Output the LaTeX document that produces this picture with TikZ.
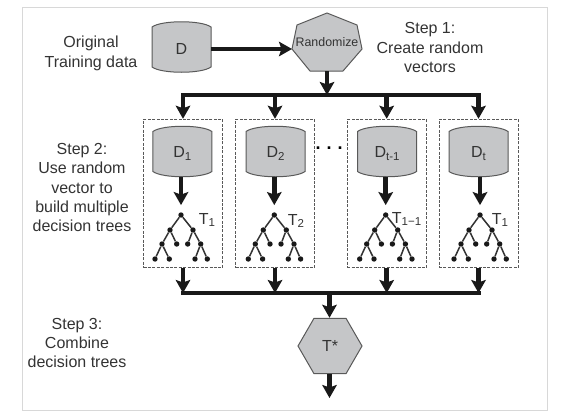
\documentclass[tikz,border=0pt]{standalone}
\usepackage{fontspec}
\setmainfont{Liberation Sans}
\usetikzlibrary{shapes,arrows,arrows.meta}
\definecolor{shapegray}{HTML}{C5C6C8}
\definecolor{inkgray}{HTML}{333333}
\definecolor{framegray}{HTML}{D8D8D8}
\tikzset{
  flow/.style={draw=black!90, line width=4.5pt, -{Stealth[length=13pt,width=14.5pt,inset=2.5pt]}},
  bus/.style={draw=black!90, line width=4.5pt, line cap=rect},
  drum/.style={rectangle, minimum width=59pt, minimum height=46pt, inner sep=0pt, text=inkgray, font=\fontsize{16}{18}\selectfont},
  drumbody/.style={draw=black!65, line width=1pt, fill=shapegray},
  stepbox/.style={draw=black!65, dash pattern=on 3pt off 1.4pt, line width=1pt, rectangle, minimum width=79pt, minimum height=148.5pt, inner sep=0pt},
  leaf/.style={circle, fill=black!90, inner sep=0pt, minimum size=5.4pt},
  twig/.style={draw=black!80, line width=1.5pt},
  note/.style={align=center, text=inkgray, font=\fontsize{16}{19.3}\selectfont},
  treename/.style={text=inkgray, font=\fontsize{16}{18}\selectfont},
}
\newcommand{\lowtext}[1]{\raisebox{-2.6pt}{\fontsize{11.5}{12}\selectfont #1}}
% cylinder without the inner ellipse, the node only holds the text
\newcommand{\drumat}[4]{
  \draw[drumbody] (#2-29.5,#3-20) .. controls (#2-20,#3-27) and (#2+20,#3-27) .. (#2+29.5,#3-20)
    -- (#2+29.5,#3+20) .. controls (#2+20,#3+27) and (#2-20,#3+27) .. (#2-29.5,#3+20) -- cycle;
  \node[drum] (#1) at (#2,#3+2) {#4};
}
% small decision tree hanging from a root at x=#2
\newcommand{\treeat}[2]{
  \foreach \nam/\dx/\dy in {root/0/0, a/-11/15, b/12/15, c/-19/29, d/-4.3/29, e/6.7/29, f/19.7/29, g/-26/44, h/-11.7/44, i/14/44, j/26.3/44}
    \node[leaf] (#1\nam) at (#2+\dx,215+\dy) {};
  \foreach \from/\to in {root/a, root/b, a/c, a/d, b/e, b/f, c/g, c/h, f/i, f/j}
    \draw[twig] (#1\from) -- (#1\to);
}

\begin{document}
\begin{tikzpicture}[x=1pt, y=-1pt]
    \useasboundingbox (0,0) rectangle (561,418);
    \draw[framegray, line width=1pt] (22,7) rectangle (547,410);

    \drumat{data}{181.5}{47}{D}
    \draw[drumbody] (327,13) -- (357,25) -- (362,49) -- (343,71) -- (310,71) -- (292,49) -- (297,25) -- cycle;
    \node[rectangle, minimum width=70pt, minimum height=58pt, inner sep=0pt, text=inkgray, font=\fontsize{12.4}{14}\selectfont] (randomize) at (327,42) {\raisebox{-2pt}{Randomize}};
    \coordinate (randomwest) at (292,49);
    \draw[flow] (data.east) -- (randomwest);

    \node[stepbox] (box1) at (183,193.5) {};
    \node[stepbox] (box2) at (275,193.5) {};
    \node[stepbox] (box3) at (386.7,193.5) {};
    \node[stepbox] (box4) at (478.5,193.5) {};

    \drumat{d1}{182.4}{151.5}{D\lowtext{1}}
    \drumat{d2}{275.5}{151.5}{D\lowtext{2}}
    \drumat{d3}{387}{151.5}{D\lowtext{t-1}}
    \drumat{d4}{478.5}{151.5}{D\lowtext{t}}

    \treeat{ta}{181}
    \treeat{tb}{274.3}
    \treeat{tc}{385.7}
    \treeat{td}{480}

    \node[treename] (tname1) at (207,220) {T\lowtext{1}};
    \node[treename] (tname2) at (296,221) {T\lowtext{2}};
    \node[treename] (tname3) at (406.5,219) {T\lowtext{1−1}};
    \node[treename] (tname4) at (500,220) {T\lowtext{1}};

    \node[inner sep=0pt, font=\bfseries\fontsize{18}{18}\selectfont] (gap) at (329,148) {.\kern6pt.\kern6pt.};

    % top bus
    \coordinate (topbus) at (327,95);
    \draw[bus] (box1.north |- topbus) -- (box4.north |- topbus);
    \draw[flow] (randomize.south) -- (topbus);
    \foreach \b in {box1,box2,box3,box4}
      \draw[flow] (\b.north |- topbus) -- (\b.north);

    \draw[flow, shorten >=7pt] (d1.south -| taroot) -- (taroot);
    \draw[flow, shorten >=7pt] (d2.south -| tbroot) -- (tbroot);
    \draw[flow, shorten >=7pt] (d3.south -| tcroot) -- (tcroot);
    \draw[flow, shorten >=7pt] (d4.south -| tdroot) -- (tdroot);

    % bottom bus
    \node[draw=black!65, line width=1pt, fill=shapegray, regular polygon, regular polygon sides=6, minimum size=64pt, inner sep=0pt, text=inkgray, font=\fontsize{16}{18}\selectfont] (combine) at (330,346) {T*};
    \coordinate (lowbus) at (329.5,293);
    \coordinate (treesout) at (329.5,398);
    \draw[bus] (box1.south |- lowbus) -- (box4.south |- lowbus);
    \foreach \b in {box1,box2,box3,box4}
      \draw[flow] (\b.south) -- (\b.south |- lowbus);
    \draw[flow] (lowbus) -- (lowbus |- combine.north);
    \draw[flow] (treesout |- combine.south) -- (treesout);

    \node[note] (origin) at (91,53.5) {Original\\Training data};
    \node[note] (step1) at (430,47.5) {Step 1:\\Create random\\vectors};
    \node[note] (step2) at (82,187.5) {Step 2:\\Use random\\vector to\\build multiple\\decision trees};
    \node[note] (step3) at (77,343) {Step 3:\\Combine\\decision trees};
  \end{tikzpicture}
\end{document}
